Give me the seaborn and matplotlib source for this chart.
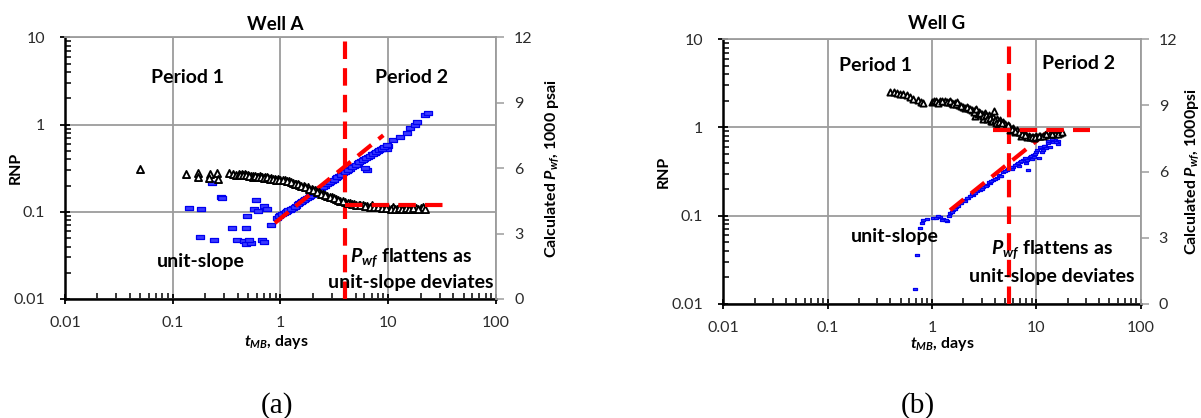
import matplotlib
matplotlib.use("Agg")
import matplotlib.pyplot as plt
from matplotlib.path import Path
from matplotlib.ticker import FixedLocator, LogLocator, NullFormatter
import seaborn as sns

# ---------------- Well A ----------------
well_a_rnp_t = [0.141, 0.183, 0.179, 0.241, 0.231, 0.280, 0.285, 0.354, 0.488, 0.477,
                0.394, 0.457, 0.477, 0.531, 0.510, 0.567, 0.617, 0.702, 0.748, 0.590,
                0.672, 0.710, 0.815,
                0.93, 1.0, 1.08, 1.15, 1.22, 1.3, 1.4, 1.5, 1.6, 1.7, 1.82, 1.95, 2.1,
                2.25, 2.4, 2.6, 2.8, 3.0, 3.25, 3.5, 3.8, 4.1, 4.4, 4.8, 5.2, 5.6, 6.0,
                6.3, 6.1, 6.5, 7.0, 7.5, 8.0, 8.5, 9.0, 9.5, 9.8, 10.0, 11.0, 12.9,
                14.9, 15.9, 17.6, 18.5, 21.8, 23.3,
                0.96, 1.04, 1.12, 1.18, 1.26, 1.35, 1.45, 1.55, 1.65, 1.76, 1.88, 2.02,
                2.17, 2.32, 2.5, 2.7, 2.9, 3.12, 3.37, 3.65, 3.95, 4.25, 4.6, 5.0, 5.4,
                5.8, 6.2, 6.7, 7.2, 7.7, 8.2, 8.8, 9.2, 9.7]
well_a_rnp = [0.111, 0.108, 0.0516, 0.0476, 0.214, 0.148, 0.145, 0.0654, 0.0898, 0.0654,
              0.0476, 0.0464, 0.0428, 0.0440, 0.0476, 0.108, 0.103, 0.117, 0.108, 0.137,
              0.0476, 0.045, 0.0708,
              0.085, 0.092, 0.097, 0.101, 0.106, 0.112, 0.118, 0.126, 0.133, 0.140,
              0.149, 0.158, 0.168, 0.178, 0.188, 0.200, 0.214, 0.226, 0.242, 0.258,
              0.276, 0.295, 0.314, 0.337, 0.360, 0.382, 0.404, 0.303, 0.318, 0.430,
              0.455, 0.478, 0.500, 0.520, 0.540, 0.560, 0.520, 0.575, 0.660, 0.720,
              0.800, 0.920, 0.990, 1.080, 1.290, 1.360,
              0.090, 0.094, 0.100, 0.104, 0.109, 0.115, 0.122, 0.130, 0.137, 0.145,
              0.153, 0.163, 0.173, 0.183, 0.194, 0.207, 0.220, 0.234, 0.250, 0.267,
              0.285, 0.305, 0.325, 0.348, 0.370, 0.393, 0.415, 0.440, 0.465, 0.490,
              0.510, 0.530, 0.550, 0.585]
well_a_pwf_t = [0.05, 0.133, 0.171, 0.172, 0.22, 0.215, 0.26, 0.262, 0.33, 0.36, 0.385,
                0.41, 0.44, 0.47, 0.5, 0.53, 0.56, 0.6, 0.64, 0.68, 0.72, 0.77, 0.82,
                0.88, 0.95, 1.0, 1.1, 1.2, 1.3, 1.4, 1.5, 1.65, 1.8, 1.95, 2.1, 2.3,
                2.5, 2.7, 3.0, 3.3, 3.6, 4.0, 4.4, 4.8, 5.3, 5.8, 6.4, 7.0, 7.6, 8.3,
                9.0, 10.0, 11.0, 12.0, 13.0, 14.0, 15.0, 16.5, 18.0, 20.0, 21.0,
                0.42, 0.45, 0.48, 0.51, 0.55, 0.58, 0.62, 0.66, 0.7, 0.75, 0.8, 0.85,
                0.9, 0.97, 1.05, 1.15, 1.25, 1.35, 1.45, 1.55, 1.7, 1.85, 2.0, 2.2,
                2.4, 2.6, 2.85, 3.15, 3.45, 3.8, 4.2, 4.6, 5.0, 5.5, 6.1, 6.7, 7.3,
                8.0, 8.7, 9.5, 10.5, 11.5, 12.5, 13.5, 14.5, 15.5, 17.0, 19.0, 22.0]
well_a_pwf = [5.97, 5.74, 5.78, 5.60, 5.74, 5.55, 5.76, 5.50, 5.78, 5.72, 5.70,
              5.72, 5.75, 5.73, 5.68, 5.64, 5.66, 5.62, 5.64, 5.58, 5.60, 5.56, 5.55,
              5.52, 5.50, 5.48, 5.44, 5.40, 5.34, 5.30, 5.24, 5.18, 5.12, 5.04, 4.98,
              4.90, 4.82, 4.74, 4.66, 4.58, 4.50, 4.45, 4.40, 4.36, 4.32, 4.30, 4.26,
              4.30, 4.22, 4.22, 4.20, 4.17, 4.20, 4.15, 4.17, 4.15, 4.16, 4.15, 4.18,
              4.16, 4.20,
              5.70, 5.68, 5.70, 5.66, 5.60, 5.64, 5.58, 5.60, 5.55, 5.58, 5.52, 5.50,
              5.48, 5.46, 5.45, 5.40, 5.36, 5.30, 5.26, 5.20, 5.14, 5.06, 5.00, 4.92,
              4.84, 4.78, 4.70, 4.62, 4.54, 4.48, 4.42, 4.38, 4.33, 4.30, 4.26, 4.24,
              4.22, 4.20, 4.18, 4.16, 4.15, 4.14, 4.16, 4.14, 4.18, 4.14, 4.16, 4.15,
              4.15]
well_a_unit_t = [0.887, 9.0]
well_a_unit_rnp = [0.0745, 0.756]
well_a_flat_t = [4.0, 35.0]
well_a_flat_pwf = [4.33, 4.33]
well_a_t_change = 4.0

# ---------------- Well G ----------------
well_g_rnp_t = [0.687, 0.72, 0.77, 0.80, 0.82, 0.90, 1.02, 1.10, 1.20, 1.28, 1.33, 1.38,
                1.45, 1.58, 1.70, 1.85, 1.98, 2.2, 2.47, 2.7, 3.1, 3.4, 3.84, 4.2, 4.8,
                5.2, 5.5, 6.0, 6.5, 7.0, 7.5, 8.0, 8.3, 8.6, 9.3, 10.0, 10.5, 11.0,
                11.6, 12.2, 12.8, 13.5, 14.6, 15.2, 16.0, 16.3,
                1.25, 1.5, 1.9, 2.3, 2.9, 3.6, 4.5, 5.8, 6.8, 7.8, 9.0, 9.8, 11.3, 12.5,
                1.15, 1.35, 1.55, 1.65, 1.78, 2.05, 2.15, 2.4, 2.6, 2.8, 3.0, 3.3, 3.5,
                3.7, 4.0, 4.4, 4.6, 5.0, 5.3, 5.7, 6.2, 6.6, 7.2, 7.7, 8.2, 8.8, 9.5,
                10.2, 10.8, 11.8, 13.0, 14.0, 15.5]
well_g_rnp = [0.0146, 0.0356, 0.072, 0.082, 0.090, 0.092, 0.094, 0.095, 0.096, 0.092,
              0.088, 0.086, 0.100, 0.116, 0.125, 0.138, 0.150, 0.160, 0.170, 0.190,
              0.210, 0.225, 0.250, 0.270, 0.310, 0.330, 0.350, 0.356, 0.380, 0.410,
              0.430, 0.390, 0.330, 0.460, 0.490, 0.520, 0.450, 0.580, 0.550, 0.620,
              0.660, 0.600, 0.680, 0.720, 0.650, 0.700,
              0.090, 0.108, 0.140, 0.165, 0.195, 0.235, 0.280, 0.340, 0.365, 0.420,
              0.440, 0.500, 0.520, 0.590,
              0.098, 0.090, 0.110, 0.120, 0.130, 0.148, 0.158, 0.175, 0.180, 0.200,
              0.200, 0.215, 0.240, 0.245, 0.260, 0.290, 0.280, 0.320, 0.340, 0.360,
              0.370, 0.400, 0.420, 0.450, 0.430, 0.480, 0.460, 0.550, 0.600, 0.620,
              0.700, 0.740, 0.690]
well_g_pwf_t = [0.396, 0.43, 0.46, 0.49, 0.53, 0.57, 0.61, 0.66, 0.73, 0.78, 0.82, 1.0,
                1.05, 1.1, 1.2, 1.33, 1.45, 1.55, 1.66, 1.8, 1.98, 2.2, 2.4, 2.58, 2.8,
                3.0, 3.2, 3.5, 3.84, 3.9, 4.2, 4.5, 4.8, 5.0, 5.5, 6.0, 6.5, 7.0, 7.5,
                8.0, 8.5, 9.3, 10.0, 10.9, 12.0, 13.5, 15.0, 16.9,
                2.6, 3.1, 3.7, 4.3, 4.9, 5.6, 6.2, 7.2, 8.2, 9.6,
                1.15, 1.25, 1.4, 1.5, 1.6, 1.7, 1.75, 1.9, 2.05, 2.15, 2.3, 2.5, 2.65,
                2.75, 2.9, 3.05, 3.3, 3.4, 3.6, 3.75, 4.0, 4.1, 4.4, 4.6, 4.7, 5.2,
                5.3, 5.8, 6.3, 6.8, 7.3, 7.8, 8.7, 9.0, 9.8, 10.5, 11.5, 12.5, 14.0,
                16.0, 17.5]
well_g_pwf = [9.61, 9.60, 9.55, 9.52, 9.50, 9.45, 9.38, 9.30, 9.25, 9.15, 9.11, 9.16,
              9.18, 9.20, 9.18, 9.20, 9.15, 9.12, 9.11, 9.00, 8.93, 8.86, 8.80, 8.79,
              8.70, 8.62, 8.66, 8.55, 8.48, 8.75, 8.40, 8.34, 8.25, 8.16, 8.05, 7.98,
              7.90, 7.80, 7.72, 7.65, 7.60, 7.57, 7.60, 7.61, 7.66, 7.70, 7.72, 7.75,
              8.50, 8.40, 8.30, 8.15, 8.00, 7.90, 7.80, 7.62, 7.55, 7.50,
              9.12, 9.20, 9.14, 9.20, 9.08, 9.05, 9.15, 8.96, 8.90, 8.95, 8.82, 8.72,
              8.85, 8.60, 8.66, 8.50, 8.55, 8.40, 8.45, 8.30, 8.35, 8.20, 8.25, 8.10,
              8.20, 8.00, 8.10, 7.95, 7.85, 7.78, 7.70, 7.65, 7.58, 7.55, 7.55, 7.60,
              7.62, 7.68, 7.70, 7.72, 7.78]
well_g_unit_t = [1.49, 13.5]
well_g_unit_rnp = [0.115, 0.933]
well_g_flat_t = [3.84, 32.6]
well_g_flat_pwf = [7.88, 7.88]
well_g_t_change = 5.5

x_ticks = [0.01, 0.1, 1, 10, 100]
x_tick_labels = ["0.01", "0.1", "1", "10", "100"]
y_ticks = [0.01, 0.1, 1, 10]
y_tick_labels = ["0.01", "0.1", "1", "10"]
p_ticks = [0, 3, 6, 9, 12]
p_tick_labels = ["0", "3", "6", "9", "12"]

sns.set_theme(style="white")
plt.rcParams["font.family"] = ["Lato", "DejaVu Sans"]
plt.rcParams["mathtext.fontset"] = "custom"
plt.rcParams["mathtext.it"] = "Lato:italic:bold"
plt.rcParams["mathtext.rm"] = "Lato:bold"
plt.rcParams["mathtext.bf"] = "Lato:bold"

BLUE_FACE = "#3a3aff"
BLUE_EDGE = "#0000f0"
RED = "#ff0000"
GRID = "#9c9c9c"
TXT = "#2b2b2b"
DASH = (0, (4.2, 2.2))

rect_marker = Path([(-1, -0.55), (1, -0.55), (1, 0.55), (-1, 0.55), (-1, -0.55)],
                   [Path.MOVETO, Path.LINETO, Path.LINETO, Path.LINETO, Path.CLOSEPOLY])

fig = plt.figure(figsize=(12.01, 4.18), dpi=100)
fig.patch.set_facecolor("white")


def make_panel(rect, title, title_xy, rnp_t, rnp, pwf_t, pwf, unit_t, unit_rnp,
               flat_t, flat_pwf, t_change, blue_size, tri_size, right_label,
               label_pos, notes):
    ax = fig.add_axes(rect)
    ax.set_xscale("log")
    ax.set_yscale("log")
    ax.set_xlim(0.01, 100)
    ax.set_ylim(0.01, 10)
    ax.set_axisbelow(True)
    ax.grid(True, which="major", color=GRID, lw=1.3)
    ax.grid(False, which="minor")

    ax.xaxis.set_major_locator(FixedLocator(x_ticks))
    ax.set_xticklabels(x_tick_labels)
    ax.yaxis.set_major_locator(FixedLocator(y_ticks))
    ax.set_yticklabels(y_tick_labels)
    ax.xaxis.set_minor_locator(LogLocator(base=10, subs=range(2, 10), numticks=20))
    ax.yaxis.set_minor_locator(LogLocator(base=10, subs=range(2, 10), numticks=20))
    ax.xaxis.set_minor_formatter(NullFormatter())
    ax.yaxis.set_minor_formatter(NullFormatter())
    ax.tick_params(which="major", direction="inout", length=7, width=1.3,
                   color="black", labelsize=11.5, labelcolor=TXT,
                   bottom=True, left=True)
    ax.tick_params(which="minor", direction="in", length=4, width=1.1,
                   color="black", bottom=True, left=True)
    ax.tick_params(axis="x", which="major", pad=9)
    ax.tick_params(axis="y", which="major", pad=11)

    for side in ("left", "bottom"):
        ax.spines[side].set_color("black")
        ax.spines[side].set_linewidth(1.8)
    ax.spines["top"].set_color(GRID)
    ax.spines["top"].set_linewidth(1.3)
    ax.spines["right"].set_visible(False)

    # RNP points
    sns.scatterplot(x=rnp_t, y=rnp, ax=ax, marker=rect_marker, s=blue_size,
                    color=BLUE_FACE, edgecolor=BLUE_EDGE, linewidth=0.9, zorder=3)
    # unit-slope guide and change of period
    ax.plot(unit_t, unit_rnp, color=RED, lw=3, linestyle=DASH, zorder=4)
    ax.axvline(t_change, color=RED, lw=3, linestyle=DASH, zorder=4)

    ax.set_ylabel("RNP", fontsize=11.5, fontweight="bold", color="black")
    ax.yaxis.set_label_coords(label_pos[0], 0.5)
    ax.set_xlabel("$t_{MB}$, days", fontsize=11.5, fontweight="bold", color="black")
    ax.xaxis.set_label_coords(label_pos[1], label_pos[2])

    ax.text(title_xy[0], title_xy[1], title, transform=ax.transAxes, ha="center",
            va="baseline", fontsize=13.5, fontweight="bold", color="black")

    # calculated flowing pressure on the secondary axis
    ax2 = ax.twinx()
    ax2.set_ylim(0, 12)
    ax2.set_yticks(p_ticks)
    ax2.set_yticklabels(p_tick_labels)
    ax2.grid(False)
    for side in ("left", "bottom", "top"):
        ax2.spines[side].set_visible(False)
    ax2.spines["right"].set_color(GRID)
    ax2.spines["right"].set_linewidth(1.3)
    ax2.tick_params(axis="y", which="major", direction="out", length=6, width=1.1,
                    color=GRID, labelsize=11.5, labelcolor=TXT, pad=7, right=True)
    sns.scatterplot(x=pwf_t, y=pwf, ax=ax2, marker="^", s=tri_size, color="white",
                    edgecolor="black", linewidth=1.35, zorder=3)
    ax2.plot(flat_t, flat_pwf, color=RED, lw=3, linestyle=DASH, zorder=4)
    ax2.set_ylabel(right_label, fontsize=11.5, fontweight="bold", color="black")
    ax2.yaxis.set_label_coords(label_pos[3], 0.5)
    ax2.set_xlim(0.01, 100)

    for (x, y, s, ha, va) in notes:
        ax.text(x, y, s, ha=ha, va=va, fontsize=14, fontweight="bold",
                color="black", zorder=6)
    return ax, ax2


make_panel([0.05412, 0.28469, 0.35887, 0.6256], "Well A", (0.487, 1.029),
           well_a_rnp_t, well_a_rnp, well_a_pwf_t, well_a_pwf,
           well_a_unit_t, well_a_unit_rnp, well_a_flat_t, well_a_flat_pwf,
           well_a_t_change, 30, 26, "Calculated $P_{wf}$, 1000 psai",
           (-0.0975, 0.49, -0.130, 1.109),
           [(0.138, 3.52, "Period 1", "center", "center"),
            (16.5, 3.52, "Period 2", "center", "center"),
            (0.183, 0.0266, "unit-slope", "center", "center"),
            (16.2, 0.0259, "$P_{wf}$ flattens as", "center", "baseline"),
            (16.2, 0.01339, "unit-slope deviates", "center", "baseline")])

make_panel([0.60225, 0.27344, 0.34754, 0.63254], "Well G", (0.512, 1.039),
           well_g_rnp_t, well_g_rnp, well_g_pwf_t, well_g_pwf,
           well_g_unit_t, well_g_unit_rnp, well_g_flat_t, well_g_flat_pwf,
           well_g_t_change, 10, 20, "Calculated $P_{wf}$, 1000psi",
           (-0.125, 0.526, -0.117, 1.1006),
           [(0.29, 4.98, "Period 1", "center", "center"),
            (25.1, 5.38, "Period 2", "center", "center"),
            (0.44, 0.0585, "unit-slope", "center", "center"),
            (14.1, 0.0356, "$P_{wf}$ flattens as", "center", "baseline"),
            (14.1, 0.0176, "unit-slope deviates", "center", "baseline")])

fig.text(0.2306, 0.013, "(a)", ha="center", va="baseline", fontsize=21,
         family="Liberation Serif", color="black")
fig.text(0.764, 0.013, "(b)", ha="center", va="baseline", fontsize=21,
         family="Liberation Serif", color="black")

fig.savefig("out.png", dpi=100, facecolor="white")
